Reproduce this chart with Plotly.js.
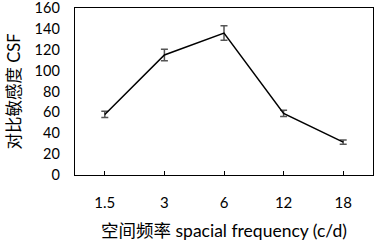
<!DOCTYPE html>
<html><head><meta charset="utf-8">
<script src="https://cdn.plot.ly/plotly-3.0.1.min.js"></script>
<style>html,body{margin:0;padding:0;background:#fff}#c{width:377px;height:247px}</style>
</head><body><div id="c"></div>
<script>
const categories = ["1.5", "3", "6", "12", "18"];
const csf = [58, 115, 136, 59, 31.5];
const csfErr = [3, 5.5, 7, 3, 2];
const yTicks = [0, 20, 40, 60, 80, 100, 120, 140, 160];

const fontFam = "Lato, 'Noto Sans CJK SC', sans-serif";
const data = [{
  x: categories, y: csf, type: "scatter", mode: "lines",
  line: {color: "#000", width: 1.5},
  error_y: {type: "data", array: csfErr, visible: true, color: "#555", thickness: 1.5, width: 3.5},
  hoverinfo: "none"
}];
const layout = {
  width: 377, height: 247,
  margin: {l: 75, r: 4, t: 8, b: 72},
  paper_bgcolor: "#fff", plot_bgcolor: "#fff",
  showlegend: false,
  font: {family: fontFam, color: "#000", size: 15},
  xaxis: {
    type: "category", range: [-0.5, 4.5],
    showline: true, mirror: true, linecolor: "#000", linewidth: 1.3,
    ticks: "inside", ticklen: 4, tickcolor: "#000", tickwidth: 1,
    showgrid: false, zeroline: false,
    ticklabelstandoff: 14,
    tickfont: {size: 15, family: fontFam},
    title: {text: "空间频率 spacial frequency (c/d)", font: {size: 17.5, family: fontFam}, standoff: 14}
  },
  yaxis: {
    range: [0, 160], tickmode: "array", tickvals: yTicks, ticktext: yTicks.map(String),
    showline: true, mirror: true, linecolor: "#000", linewidth: 1.3,
    ticks: "outside", ticklen: 0, tickcolor: "rgba(0,0,0,0)",
    showgrid: false, zeroline: false,
    ticklabeloverflow: "allow",
    ticklabelstandoff: 11,
    tickfont: {size: 14.5, family: fontFam},
    title: {text: "对比敏感度 CSF", font: {size: 16.5, family: fontFam}, standoff: 9}
  }
};
Plotly.newPlot("c", data, layout, {staticPlot: true, displayModeBar: false});
</script></body></html>
